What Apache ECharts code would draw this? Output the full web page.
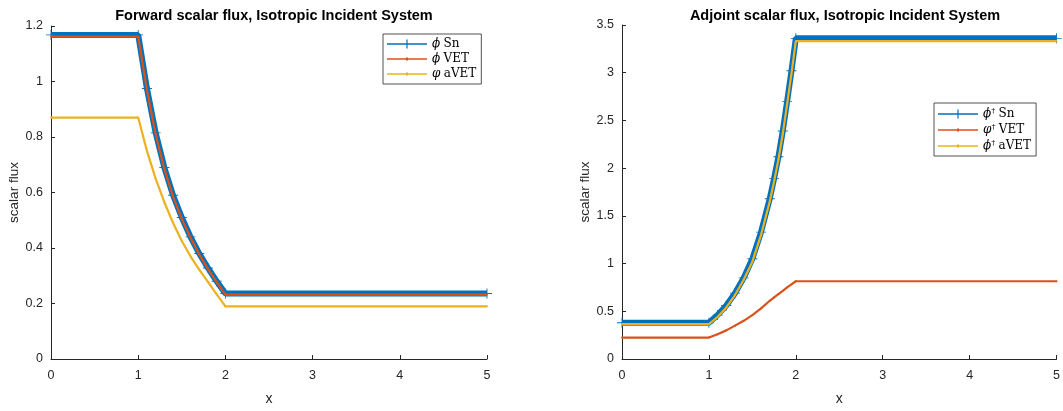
<!DOCTYPE html>
<html>
<head>
<meta charset="utf-8">
<script src="https://cdn.jsdelivr.net/npm/echarts@6/dist/echarts.min.js"></script>
<style>
html,body{margin:0;padding:0;background:#fff;}
#chart{width:1063px;height:411px;}
</style>
</head>
<body>
<div id="chart"></div>
<script>
// ---- data ----
const titles = ['Forward scalar flux, Isotropic Incident System', 'Adjoint scalar flux, Isotropic Incident System'];
const xTicks = [0, 1, 2, 3, 4, 5];
const fwdNames = ['ϕ Sn', 'ϕ VET', 'φ aVET'];
const adjNames = ['ϕ† Sn', 'φ† VET', 'ϕ† aVET'];

const xFwd = [0, 1, 1.1, 1.2, 1.3, 1.4, 1.5, 1.6, 1.7, 1.8, 1.9, 2, 5];
const snFwd = [1.168, 1.168, 0.975, 0.815, 0.69, 0.59, 0.51, 0.44, 0.38, 0.328, 0.28, 0.236, 0.236];
const vetFwd = [1.162, 1.162, 0.97, 0.81, 0.685, 0.585, 0.505, 0.437, 0.377, 0.325, 0.277, 0.232, 0.232];
const avetFwd = [0.87, 0.87, 0.75, 0.65, 0.565, 0.49, 0.425, 0.37, 0.322, 0.278, 0.233, 0.19, 0.19];

const xAdj = [0, 1, 1.1, 1.2, 1.3, 1.4, 1.5, 1.6, 1.7, 1.75, 1.8, 1.85, 1.9, 1.95, 2, 5];
const snAdj = [0.38, 0.38, 0.46, 0.56, 0.69, 0.85, 1.05, 1.33, 1.68, 1.89, 2.12, 2.39, 2.70, 3.02, 3.36, 3.36];
const vetAdj = [0.225, 0.225, 0.26, 0.30, 0.35, 0.40, 0.46, 0.53, 0.61, 0.645, 0.68, 0.715, 0.75, 0.783, 0.815, 0.815];
const avetAdj = [0.365, 0.365, 0.44, 0.54, 0.67, 0.83, 1.02, 1.30, 1.65, 1.86, 2.09, 2.36, 2.67, 2.99, 3.33, 3.33];

// ---- chart ----
const pair = (xs, ys) => xs.map((x, i) => [x, ys[i]]);
const C = { sn: '#0072BD', vet: '#D95319', avet: '#EDB120' };
const axisCol = '#262626';
const sans = 'Liberation Sans';
const plus = 'path://M4.55,0H5.45V4.55H10V5.45H5.45V10H4.55V5.45H0V4.55H4.55Z';
const iconPlus = 'path://M0,0M40,10M0,4.3H19.4V0.6H20.6V4.3H40V5.7H20.6V9.4H19.4V5.7H0Z';
const iconDot = 'path://M0,0M40,10M0,4.25H19V3.4H21V4.25H40V5.75H21V6.6H19V5.75H0Z';

function xAxisDef(gi) {
  return {
    type: 'value', gridIndex: gi, min: 0, max: 5, interval: 1,
    name: 'x', nameLocation: 'middle', nameGap: 33,
    nameTextStyle: { color: axisCol, fontSize: 14, fontFamily: sans },
    axisLine: { lineStyle: { color: axisCol, width: 1 } },
    axisTick: { inside: true, length: 4, lineStyle: { color: axisCol } },
    axisLabel: { color: axisCol, fontSize: 12.5, fontFamily: sans, margin: 10 },
    splitLine: { show: false }
  };
}
function yAxisDef(gi, max, interval) {
  return {
    type: 'value', gridIndex: gi, min: 0, max: max, interval: interval,
    name: 'scalar flux', nameLocation: 'middle', nameGap: 30,
    nameTextStyle: { color: axisCol, fontSize: 13.5, fontFamily: sans },
    axisLine: { show: true, lineStyle: { color: axisCol, width: 1 } },
    axisTick: { show: true, inside: true, length: 4, lineStyle: { color: axisCol } },
    axisLabel: { color: axisCol, fontSize: 12.5, fontFamily: sans, margin: 8,
      formatter: v => String(+v.toFixed(2)) },
    splitLine: { show: false }
  };
}
function snSeries(name, gi, xs, ys) {
  return {
    name, type: 'line', xAxisIndex: gi, yAxisIndex: gi, data: pair(xs, ys),
    lineStyle: { color: C.sn, width: 6 }, itemStyle: { color: C.sn },
    symbol: plus, symbolSize: 10, showAllSymbol: true, z: 2, animation: false
  };
}
function plainSeries(name, gi, xs, ys, col, z) {
  return {
    name, type: 'line', xAxisIndex: gi, yAxisIndex: gi, data: pair(xs, ys),
    lineStyle: { color: col, width: 2.2 }, itemStyle: { color: col },
    symbol: 'circle', symbolSize: 2, showAllSymbol: true, z: z, animation: false
  };
}
const legendRich = {
  g: { fontFamily: 'DejaVu Serif', fontStyle: 'italic', fontSize: 12, color: '#000' },
  s: { fontFamily: 'DejaVu Serif', fontSize: 8, color: '#000', verticalAlign: 'top', padding: [0, 0, 6, 0] },
  t: { fontFamily: 'DejaVu Serif', fontSize: 12, color: '#000' }
};
function legendFmt(name) {
  const parts = name.split(' ');
  const sym = parts[0];
  if (sym.length > 1) return '{g|' + sym[0] + '}{s|' + sym.slice(1) + '} {t|' + parts[1] + '}';
  return '{g|' + sym + '} {t|' + parts[1] + '}';
}
function legendDef(names, left, top) {
  return {
    data: names.map((n, i) => ({ name: n, icon: i === 0 ? iconPlus : iconDot })),
    orient: 'vertical', left: left, top: top,
    itemWidth: 40, itemHeight: 10, itemGap: 3,
    padding: [4, 5, 4, 4],
    backgroundColor: '#fff', borderColor: axisCol, borderWidth: 0.8,
    itemStyle: { borderWidth: 0 },
    textStyle: { rich: legendRich, fontSize: 12 },
    formatter: legendFmt, selectedMode: false
  };
}

const chart = echarts.init(document.getElementById('chart'));
chart.setOption({
  backgroundColor: '#fff',
  animation: false,
  title: [
    { text: titles[0], left: 269, top: 3, textAlign: 'center',
      textStyle: { fontSize: 14.5, fontWeight: 'bold', color: '#000', fontFamily: sans } },
    { text: titles[1], left: 840, top: 3, textAlign: 'center',
      textStyle: { fontSize: 14.5, fontWeight: 'bold', color: '#000', fontFamily: sans } }
  ],
  grid: [
    { left: 51, top: 26, width: 436, height: 341 },
    { left: 622, top: 25, width: 435, height: 342 }
  ],
  xAxis: [xAxisDef(0), xAxisDef(1)],
  yAxis: [yAxisDef(0, 1.2, 0.2), yAxisDef(1, 3.5, 0.5)],
  legend: [legendDef(fwdNames, 383, 34), legendDef(adjNames, 934, 103)],
  series: [
    snSeries(fwdNames[0], 0, xFwd, snFwd),
    plainSeries(fwdNames[1], 0, xFwd, vetFwd, C.vet, 3),
    plainSeries(fwdNames[2], 0, xFwd, avetFwd, C.avet, 4),
    snSeries(adjNames[0], 1, xAdj, snAdj),
    plainSeries(adjNames[1], 1, xAdj, vetAdj, C.vet, 3),
    plainSeries(adjNames[2], 1, xAdj, avetAdj, C.avet, 4)
  ]
});
</script>
</body>
</html>
